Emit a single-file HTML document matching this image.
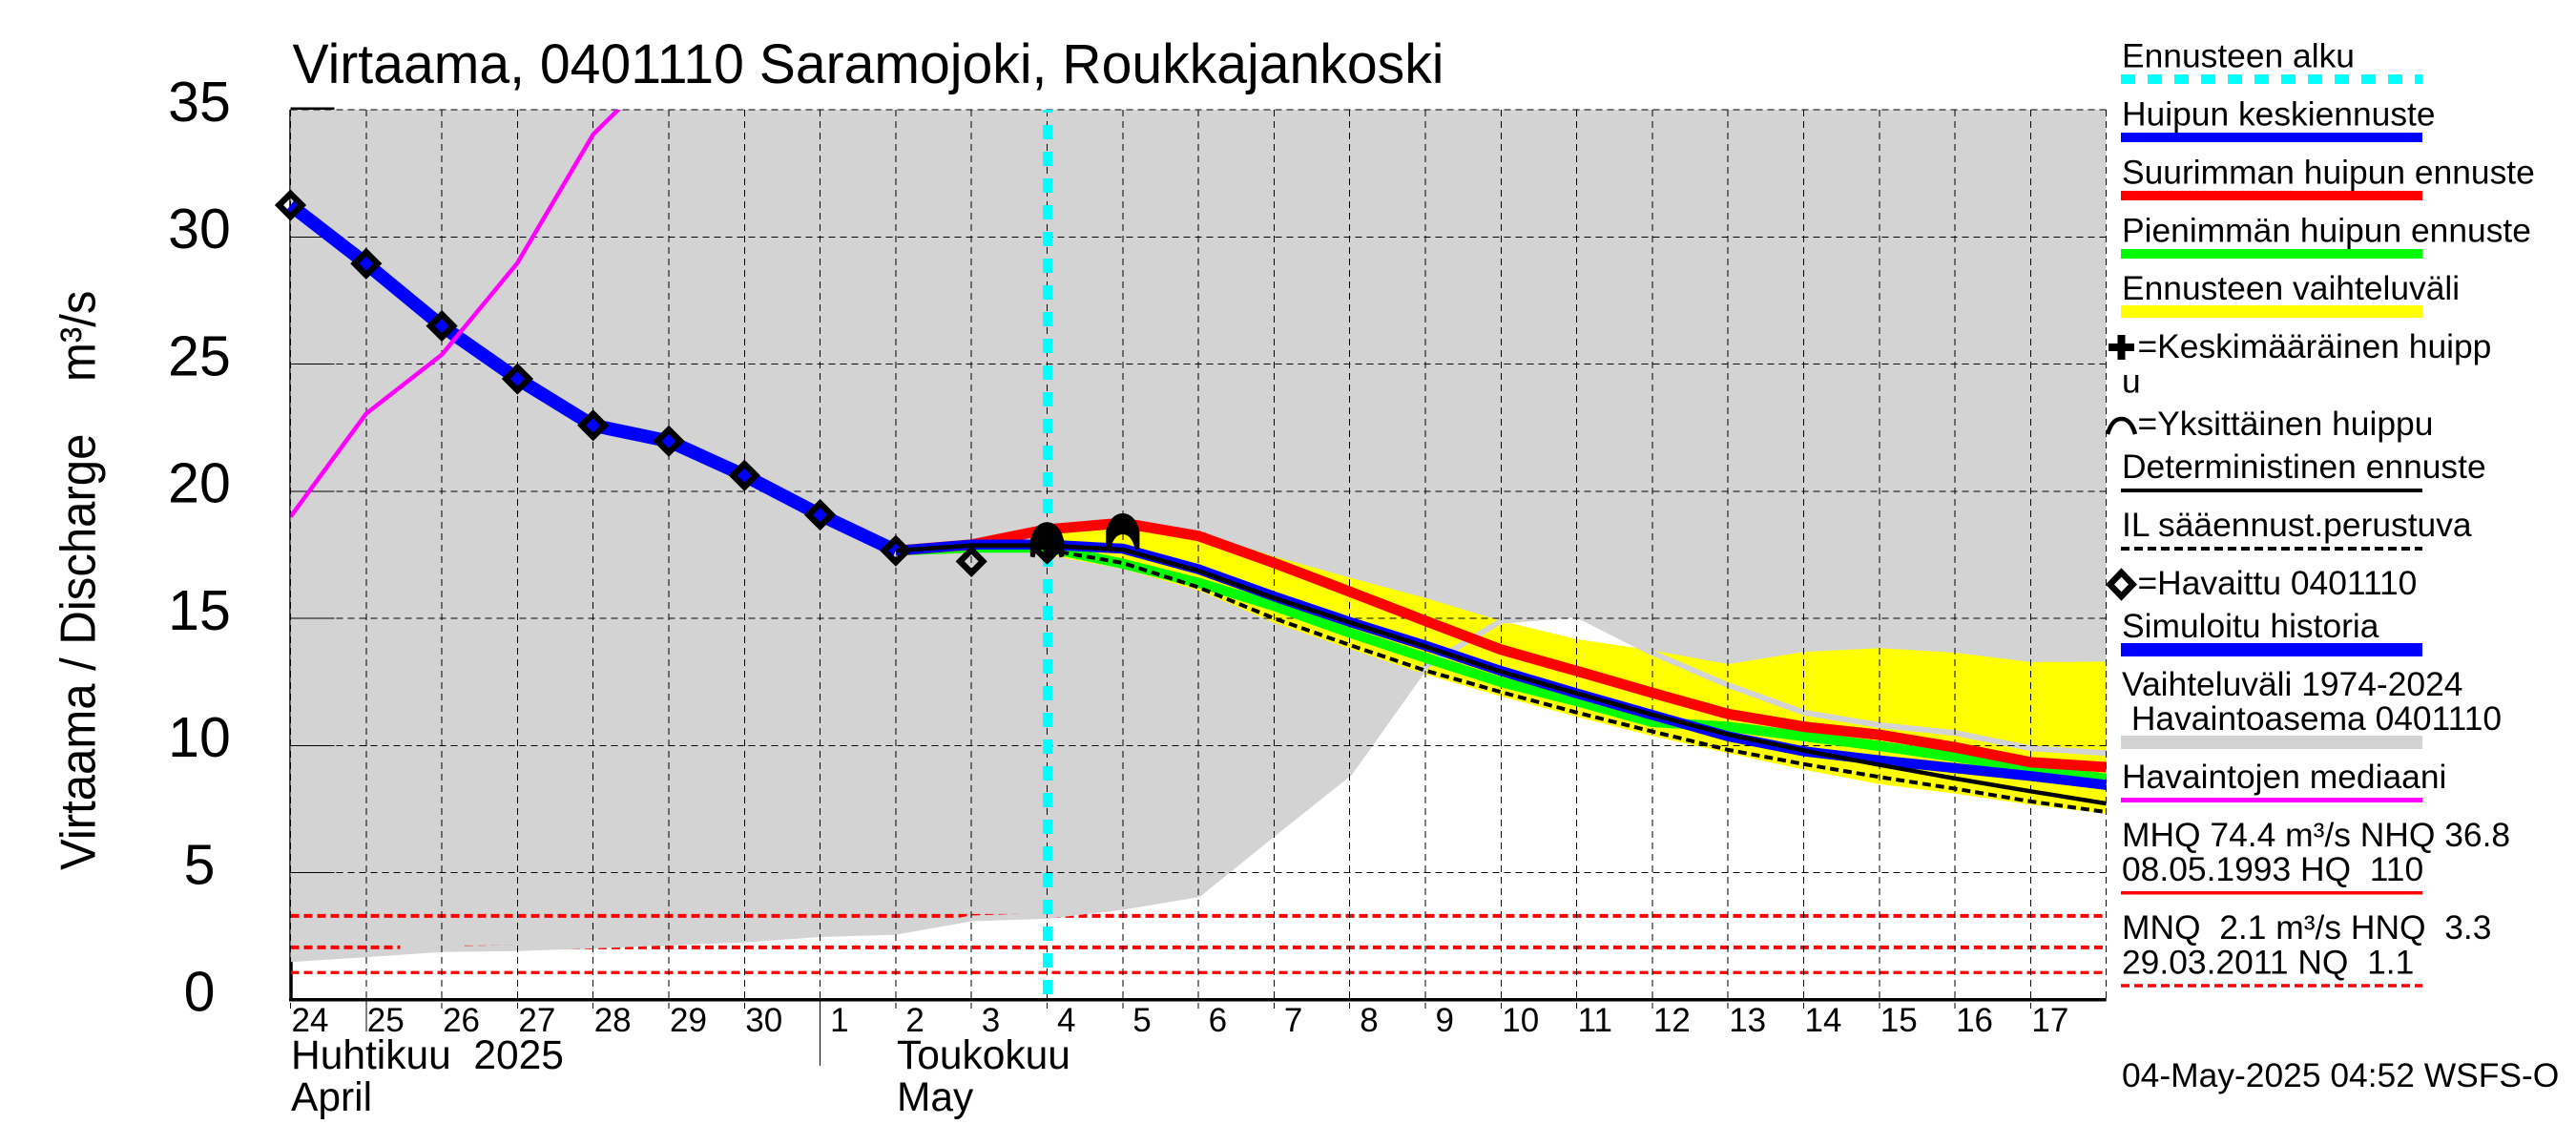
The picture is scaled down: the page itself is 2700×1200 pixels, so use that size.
<!DOCTYPE html>
<html lang="fi">
<head>
<meta charset="utf-8">
<title>Virtaama, 0401110 Saramojoki, Roukkajankoski</title>
<style>
html,body{margin:0;padding:0;background:#fff;}
body{width:2700px;height:1200px;overflow:hidden;}
svg{display:block;}
text{font-family:"Liberation Sans",sans-serif;fill:#000;white-space:pre;}
.lg{font-size:35.4px;}
</style>
</head>
<body>
<svg id="chart" xmlns="http://www.w3.org/2000/svg" width="2700" height="1200" viewBox="0 0 2700 1200">
  <rect x="0" y="0" width="2700" height="1200" fill="#fff"/>
  <g id="plot"></g>
  <g id="axes"></g>

  <text x="306.5" y="87" font-size="58" textLength="1207" lengthAdjust="spacingAndGlyphs">Virtaama, 0401110 Saramojoki, Roukkajankoski</text>
  <text font-size="49.1" transform="translate(99.5,912) rotate(-90) scale(1,1.06)">Virtaama / Discharge    m³/s</text>
  <text x="305" y="1120" font-size="42.5">Huhtikuu  2025</text>
  <text x="305" y="1164" font-size="42.5">April</text>
  <text x="940" y="1120" font-size="42.5">Toukokuu</text>
  <text x="940" y="1164" font-size="42.5">May</text>

  <g>
    <text class="lg" x="2224" y="70.5">Ennusteen alku</text>
    <line x1="2223" y1="83" x2="2539" y2="83" stroke="#00ffff" stroke-width="10" stroke-dasharray="15 13"/>
    <text class="lg" x="2224" y="131.5">Huipun keskiennuste</text>
    <rect x="2223" y="139" width="316" height="10" fill="#0000ff"/>
    <text class="lg" x="2224" y="192.5">Suurimman huipun ennuste</text>
    <rect x="2223" y="200" width="316" height="10" fill="#ff0000"/>
    <text class="lg" x="2224" y="253.5">Pienimmän huipun ennuste</text>
    <rect x="2223" y="261" width="316" height="10" fill="#00ff00"/>
    <text class="lg" x="2224" y="314">Ennusteen vaihteluväli</text>
    <rect x="2223" y="320" width="316" height="13" fill="#ffff00"/>
    <path d="M2210 364H2237M2223.5 351V377" stroke="#000" stroke-width="8" fill="none"/>
    <text class="lg" x="2240.5" y="375">=Keskimääräinen huipp</text>
    <text class="lg" x="2224" y="411.5">u</text>
    <path d="M2209 455 C2213 441 2219 439 2223.5 439 C2228 439 2234 441 2238 455" stroke="#000" stroke-width="4.500" fill="none"/>
    <text class="lg" x="2240.5" y="456">=Yksittäinen huippu</text>
    <text class="lg" x="2224" y="501">Deterministinen ennuste</text>
    <rect x="2223" y="512" width="316" height="4" fill="#000"/>
    <text class="lg" x="2224" y="562">IL sääennust.perustuva</text>
    <line x1="2223" y1="575" x2="2539" y2="575" stroke="#000" stroke-width="4" stroke-dasharray="9 5"/>
    <path d="M2223.5 600L2235.500 612.500L2223.500 625L2211.500 612.500Z" stroke="#000" stroke-width="6.500" fill="none"/>
    <text class="lg" x="2240.5" y="623">=Havaittu 0401110</text>
    <text class="lg" x="2224" y="668">Simuloitu historia</text>
    <rect x="2223" y="674" width="316" height="14" fill="#0000ff"/>
    <text class="lg" x="2224" y="729">Vaihteluväli 1974-2024</text>
    <text class="lg" x="2224" y="765"> Havaintoasema 0401110</text>
    <rect x="2223" y="771" width="316" height="14" fill="#d3d3d3"/>
    <text class="lg" x="2224" y="826">Havaintojen mediaani</text>
    <rect x="2223" y="836" width="316" height="5" fill="#ff00ff"/>
    <text class="lg" x="2224" y="887">MHQ 74.4 m³/s NHQ 36.8</text>
    <text class="lg" x="2224" y="923">08.05.1993 HQ  110</text>
    <rect x="2223" y="934" width="316" height="3.500" fill="#ff0000"/>
    <text class="lg" x="2224" y="984">MNQ  2.1 m³/s HNQ  3.3</text>
    <text class="lg" x="2224" y="1020.5">29.03.2011 NQ  1.1</text>
    <line x1="2223" y1="1033" x2="2539" y2="1033" stroke="#ff0000" stroke-width="3.500" stroke-dasharray="9 5"/>
    <text class="lg" x="2224" y="1139">04-May-2025 04:52 WSFS-O</text>
  </g>
</svg>

<script>
// ---- chart data (days are counted from 24 April 2025; values in m3/s) ----
const yTickValues = [0, 5, 10, 15, 20, 25, 30, 35];
const dayTickLabels = ['24','25','26','27','28','29','30','1','2','3','4','5','6','7','8','9','10','11','12','13','14','15','16','17'];
const dayCount = 24;
const monthBoundaryDay = 7;
const longTickDay = 1;
const forecastStartDay = 10;

const rangeLowDays = [0,1,2,3,4,5,6,7,8,9,10,11,12,13,14,15,16,17,18,19,20,21,22,23,24];
const rangeLow = [1.6,1.79,1.99,2.03,2.13,2.25,2.37,2.58,2.67,3.2,3.3,3.65,4.15,6.55,8.92,13.1,14.9,15.15,13.64,12.37,11.3,10.8,10.49,9.89,9.7];

const simulatedDays = [0,1,2,3,4,5,6,7,8];
const simulated = [31.25,28.95,26.5,24.42,22.59,21.97,20.62,19.07,17.66];

const observedDays = [0,1,2,3,4,5,6,7,8,9,10];
const observed = [31.25,28.95,26.5,24.42,22.59,21.97,20.62,19.07,17.66,17.24,17.73];

const medianDays = [0,1,2,3,4,5];
const median = [19.0,23.05,25.37,28.98,34.03,36.97];

const forecastDays = [8,9,10,11,12,13,14,15,16,17,18,19,20,21,22,23,24];
const peakMax = [17.66,17.9,18.5,18.75,18.24,17.18,16.05,14.9,13.77,12.93,12.07,11.24,10.74,10.42,9.93,9.34,9.15];
const peakMin = [17.66,17.78,17.78,17.15,16.4,15.49,14.43,13.45,12.49,11.74,10.92,10.74,10.36,9.98,9.55,9.07,8.7];
const peakMean = [17.66,17.9,17.9,17.74,16.93,15.86,14.86,13.93,12.93,12.05,11.2,10.36,9.77,9.42,9.11,8.8,8.45];
const deterministic = [17.66,17.87,17.87,17.7,16.87,15.8,14.84,13.89,12.9,12.05,11.21,10.43,9.8,9.24,8.7,8.2,7.72];

const envelopeDays = [10,11,12,13,14,15,16,17,18,19,20,21,22,23,24];
const envelopeHigh = [18.3,18.75,18.4,17.43,16.6,15.8,14.9,14.18,13.74,13.2,13.68,13.83,13.65,13.28,13.3];
const envelopeLow = [17.5,16.95,16.1,14.83,13.8,12.8,11.93,11.13,10.38,9.7,9.05,8.48,8.11,7.67,7.32];
const ilForecast = [17.7,17.18,16.22,15.0,13.95,12.95,12.1,11.3,10.55,9.83,9.27,8.76,8.3,7.8,7.38];

const refLevels = [3.3,2.06,2.06,1.07];
const refFromDay = [0,0,2.3,0];
const refToDay = [24,1.45,24,24];

const singlePeaksDay10 = [18.35,18.27,18.18,18.1,18.0,17.92,17.83,17.75];
const singlePeaksDay11 = [18.7,18.61,18.52,18.43,18.34,18.25,18.16,18.06];
const meanPeakDay = 10;
const meanPeakValue = 17.85;

// ---- axis functions ----
function X(d) { return 304.5 + 79.3 * d; }
function Y(v) { return 1047.8 - 26.65 * v; }

const NS = 'http://www.w3.org/2000/svg';
const plot = document.getElementById('plot');
const axes = document.getElementById('axes');

function make(parent, tag, attrs) {
  const el = document.createElementNS(NS, tag);
  for (const k in attrs) el.setAttribute(k, attrs[k]);
  parent.appendChild(el);
  return el;
}
function pts(days, vals) {
  return days.map(function (d, i) { return X(d).toFixed(1) + ',' + Y(vals[i]).toFixed(1); }).join(' ');
}
function polyline(days, vals, color, width, extra) {
  const attrs = { points: pts(days, vals), fill: 'none', stroke: color, 'stroke-width': width, 'stroke-linejoin': 'round' };
  for (const k in extra) attrs[k] = extra[k];
  return make(plot, 'polyline', attrs);
}

// clip for series that leave the plot
const defs = make(plot, 'defs', {});
const clip = make(defs, 'clipPath', { id: 'plotClip' });
make(clip, 'rect', { x: X(0), y: Y(35), width: X(dayCount) - X(0), height: Y(0) - Y(35) });

// left axis (mostly hidden by the grey range)
const leftAxis = make(plot, 'line', { x1: X(0) + 0.5, y1: Y(35), x2: X(0) + 0.5, y2: Y(0), stroke: '#000', 'stroke-width': 3.5 });



// historic range (grey)
const rangePoly = make(plot, 'polygon', {
  points: X(0) + ',' + Y(35) + ' ' + X(dayCount) + ',' + Y(35) + ' ' + rangeLowDays.slice().reverse().map(function (d, i) {
    return X(d).toFixed(1) + ',' + Y(rangeLow[rangeLow.length - 1 - i]).toFixed(1);
  }).join(' '),
  fill: '#d3d3d3'
});



// reference levels
refLevels.forEach(function (v, i) {
  const ln = make(plot, 'line', { x1: X(refFromDay[i]), y1: Y(v), x2: X(refToDay[i]), y2: Y(v), stroke: '#ff0000', 'stroke-width': i === 3 ? 3.2 : 4, 'stroke-dasharray': '9 5' });
  
  
});

// forecast envelope (yellow)
const envelope = make(plot, 'polygon', {
  points: pts(envelopeDays, envelopeHigh) + ' ' + pts(envelopeDays.slice().reverse(), envelopeLow.slice().reverse()),
  fill: '#ffff00'
});



// lower edge of the historic range, drawn as a thick grey line over the yellow
const rangeEdge = polyline(rangeLowDays, rangeLow, '#d3d3d3', 6, {});



// grid
yTickValues.forEach(function (v) {
  if (v > 0) {
    const g = make(plot, 'line', { x1: X(0), y1: Y(v), x2: X(dayCount), y2: Y(v), stroke: '#000', 'stroke-width': 1, 'stroke-dasharray': '7 5', 'shape-rendering': 'crispEdges' });
    
    
    const t = make(plot, 'line', { x1: X(0), y1: Y(v) - (v === 35 ? 1.5 : 0), x2: X(0) + 46, y2: Y(v) - (v === 35 ? 1.5 : 0), stroke: '#000', 'stroke-width': v === 35 ? 2.5 : 1, 'shape-rendering': 'crispEdges' });
    
    
  }
});
for (let d = 0; d <= dayCount; d++) {
  const bottom = d === dayCount ? Y(0) : Y(0) + 9;
  const g = make(plot, 'line', { x1: X(d), y1: Y(35), x2: X(d), y2: bottom, stroke: '#000', 'stroke-width': 1, 'stroke-dasharray': '7 5', 'shape-rendering': 'crispEdges' });
  
  
}
const longTick = make(plot, 'line', { x1: X(longTickDay), y1: Y(0), x2: X(longTickDay), y2: Y(0) + 33, stroke: '#000', 'stroke-width': 1, 'shape-rendering': 'crispEdges' });


const monthTick = make(plot, 'line', { x1: X(monthBoundaryDay), y1: Y(0), x2: X(monthBoundaryDay), y2: Y(0) + 69, stroke: '#000', 'stroke-width': 1, 'shape-rendering': 'crispEdges' });



// forecast start
const startLine = make(plot, 'line', { x1: X(forecastStartDay) + 0.5, y1: Y(35), x2: X(forecastStartDay) + 0.5, y2: Y(0) + 4, stroke: '#00ffff', 'stroke-width': 10, 'stroke-dasharray': '15 13', 'stroke-dashoffset': 12 });



// series
const minLine = polyline(forecastDays, peakMin, '#00ff00', 10.5, {});



const maxLine = polyline(forecastDays, peakMax, '#ff0000', 11, {});



const simLine = polyline(simulatedDays, simulated, '#0000ff', 14, {});



const meanLine = polyline(forecastDays, peakMean, '#0000ff', 10.5, {});



const detLine = polyline(forecastDays, deterministic, '#000', 4.5, {});



const ilLine = polyline(envelopeDays, ilForecast, '#000', 4, { 'stroke-dasharray': '9 5' });



const medianLine = polyline(medianDays, median, '#ff00ff', 4.5, { 'clip-path': 'url(#plotClip)' });



// single-peak arcs
function arc(day, v) {
  const x = X(day), y = Y(v);
  const d = 'M' + (x - 15.5) + ' ' + (y + 9) + ' C' + (x - 12) + ' ' + (y - 6) + ' ' + (x - 5) + ' ' + (y - 9) + ' ' + x + ' ' + (y - 9) +
            ' C' + (x + 5) + ' ' + (y - 9) + ' ' + (x + 12) + ' ' + (y - 6) + ' ' + (x + 15.5) + ' ' + (y + 9);
  return make(plot, 'path', { d: d, fill: 'none', stroke: '#000', 'stroke-width': 5 });
}
singlePeaksDay10.forEach(function (v) {
  const a = arc(10, v);
  
  
});
singlePeaksDay11.forEach(function (v) {
  const a = arc(11, v);
  
  
});
const meanPeak = make(plot, 'path', {
  d: 'M' + (X(meanPeakDay) - 13) + ' ' + Y(meanPeakValue) + 'H' + (X(meanPeakDay) + 13) + 'M' + X(meanPeakDay) + ' ' + (Y(meanPeakValue) - 13) + 'V' + (Y(meanPeakValue) + 13),
  stroke: '#000', 'stroke-width': 8, fill: 'none'
});



// observed diamonds
observedDays.forEach(function (d, i) {
  const x = X(d), y = Y(observed[i]);
  const m = make(plot, 'path', { d: 'M' + x + ' ' + (y - 12) + 'L' + (x + 12) + ' ' + y + 'L' + x + ' ' + (y + 12) + 'L' + (x - 12) + ' ' + y + 'Z', fill: 'none', stroke: '#000', 'stroke-width': 6.5 });
  
  
});

// bottom axis
const xAxis = make(plot, 'line', { x1: X(0) - 1.5, y1: Y(0), x2: X(dayCount), y2: Y(0), stroke: '#000', 'stroke-width': 3.5 });



// tick labels
yTickValues.forEach(function (v) {
  const t = make(axes, 'text', { x: 209, y: Y(v) + 11.7, 'font-size': 59, 'text-anchor': 'middle' });
  t.textContent = String(v);
  
  
});
dayTickLabels.forEach(function (label, i) {
  const t = make(axes, 'text', { x: X(i) + (label.length === 1 ? 10.5 : 1), y: 1081, 'font-size': 35 });
  t.textContent = label;
  
  
});
</script>
</body>
</html>
